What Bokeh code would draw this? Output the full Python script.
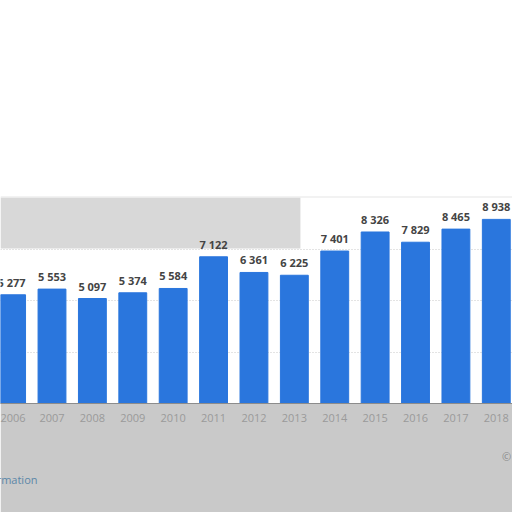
from bokeh.plotting import figure
from bokeh.models import ColumnDataSource, FixedTicker, Range1d, BoxAnnotation, Spacer, Title, LinearAxis
from bokeh.layouts import column
from bokeh.core.properties import value
from bokeh.embed import file_html
from bokeh.resources import INLINE

years = [2006, 2007, 2008, 2009, 2010, 2011, 2012, 2013, 2014, 2015, 2016, 2017, 2018]
values = [5277, 5553, 5097, 5374, 5584, 7122, 6361, 6225, 7401, 8326, 7829, 8465, 8938]
labels = [f"{v:,}".replace(",", " ") for v in values]

src = ColumnDataSource(dict(x=years, top=values, label=labels))

p = figure(width=512, height=316, output_backend="svg", toolbar_location=None,
           x_range=Range1d(2005.725, 2018.401), y_range=Range1d(0, 10000),
           min_border_left=0, min_border_right=0, min_border_top=1, min_border_bottom=109)
p.border_fill_color = "#c9c9c9"
p.background_fill_color = "white"
p.outline_line_color = None

band = BoxAnnotation(left=2005.725, right=2013.15, bottom=7530, top=10000,
                     fill_color="#d8d8d8", fill_alpha=1.0, line_color=None, level="underlay")
p.add_layout(band)

p.vbar(x="x", top="top", width=0.69, source=src, color="#2a76dd")
p.text(x="x", y="top", text="label", source=src, text_align="center",
       text_baseline="bottom", y_offset=-5, text_font=value("Open Sans"),
       text_font_style="bold", text_font_size="11px", text_color="#444444")

p.yaxis.visible = False
p.xaxis.ticker = FixedTicker(ticks=years)
p.xaxis.major_tick_line_color = None
p.xaxis.minor_tick_line_color = None
p.xaxis.axis_line_color = "#8c8c8c"
p.xaxis.major_label_text_font = "Open Sans"
p.xaxis.major_label_text_font_size = "11px"
p.xaxis.major_label_text_color = "#9a9a9a"
p.xaxis.major_label_standoff = 4

p.xgrid.grid_line_color = None
p.ygrid.ticker = FixedTicker(ticks=[2500, 5000, 7500, 10000])
p.ygrid.grid_line_color = "#c8c8c8"
p.ygrid.grid_line_dash = "1 2"

copy_axis = LinearAxis(ticker=FixedTicker(ticks=[2018.32]),
                       major_label_overrides={2018.32: "©"},
                       axis_line_color=None, major_tick_line_color=None,
                       minor_tick_line_color=None, major_label_standoff=18,
                       major_label_text_font="Open Sans", major_label_text_font_size="11px",
                       major_label_text_color="#8a8a8a")
p.add_layout(copy_axis, "below")

info = Title(text="Additional Information", align="left", offset=-79, standoff=7,
             text_font="Open Sans", text_font_size="11px", text_font_style="normal",
             text_color="#5b87a8")
p.add_layout(info, "below")

layout = column(Spacer(width=512, height=196), p)
open("out.html", "w").write(file_html(layout, INLINE))
